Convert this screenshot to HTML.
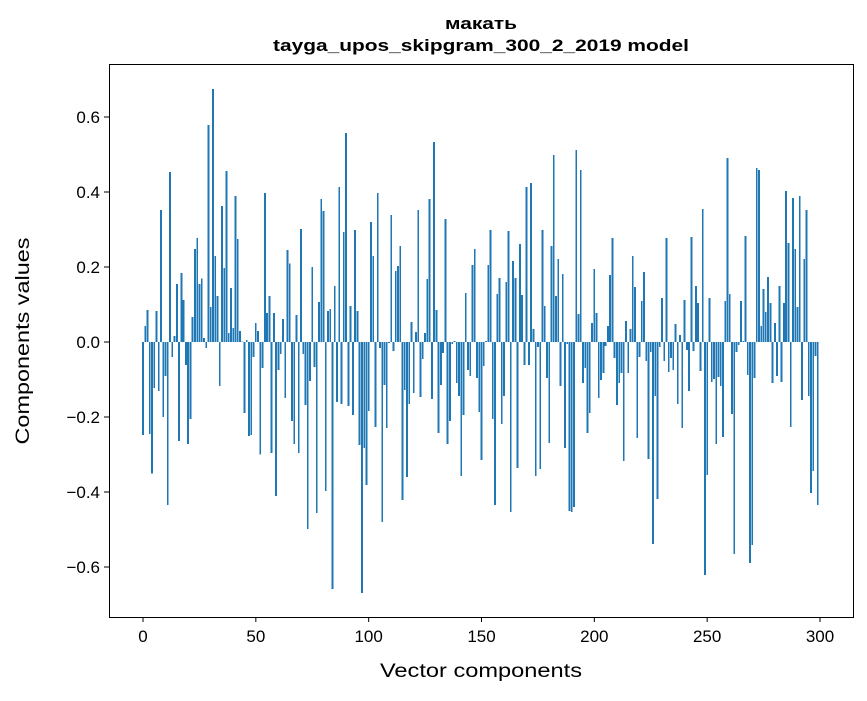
<!DOCTYPE html>
<html><head><meta charset="utf-8"><style>
body{margin:0;background:#fff;}
svg text{font-family:"Liberation Sans","DejaVu Sans",sans-serif;}
</style></head><body>
<svg id="chart" width="867" height="696" xmlns="http://www.w3.org/2000/svg">
<rect width="867" height="696" fill="#fff"/>
<text x="481" y="29" text-anchor="middle" font-size="17" font-weight="bold" textLength="72" lengthAdjust="spacingAndGlyphs">макать</text>
<text x="481" y="51" text-anchor="middle" font-size="17" font-weight="bold" textLength="416" lengthAdjust="spacingAndGlyphs">tayga_upos_skipgram_300_2_2019 model</text>
<g id="bars" shape-rendering="crispEdges"></g>
<g id="axes"></g>
<rect x="109.5" y="64.5" width="744" height="553" fill="none" stroke="#000" stroke-width="1"/>
<text x="481" y="677" text-anchor="middle" font-size="19" textLength="202" lengthAdjust="spacingAndGlyphs">Vector components</text>
<text transform="translate(29,341) rotate(-90)" text-anchor="middle" font-size="19" textLength="207" lengthAdjust="spacingAndGlyphs">Components values</text>
</svg>
<script>
const values = [-0.248,0.043,0.085,-0.245,-0.35,-0.123,0.083,-0.13,0.352,-0.2,-0.09,-0.435,0.453,-0.04,0.016,0.155,-0.264,0.184,0.112,-0.061,-0.272,-0.205,0.067,0.248,0.277,0.155,0.17,0.011,-0.016,0.579,0.093,0.675,0.229,0.123,-0.117,0.363,0.197,0.456,0.024,0.144,0.037,0.389,0.275,0.029,0.002,-0.189,0.005,-0.25,-0.248,-0.04,
0.051,0.029,-0.3,-0.069,0.397,0.077,0.123,-0.296,0.077,-0.41,-0.075,-0.032,0.061,-0.149,0.245,0.21,-0.21,-0.272,0.072,-0.296,0.301,-0.032,-0.168,-0.499,-0.104,0.2,-0.067,-0.456,0.107,0.381,0.349,-0.397,0.083,0.088,-0.659,0.149,-0.16,0.413,-0.165,0.293,0.557,-0.17,0.096,-0.195,0.299,0.083,-0.275,-0.669,-0.283,-0.381,
-0.184,0.32,0.229,-0.227,0.397,-0.016,-0.48,-0.115,-0.229,-0.003,0.339,-0.024,0.189,0.203,0.256,-0.421,-0.128,-0.36,-0.165,0.053,-0.136,0.027,0.352,-0.147,-0.045,0.024,0.168,0.381,-0.152,0.533,0.085,-0.243,-0.115,-0.029,0.328,-0.272,-0.21,-0.005,0.003,-0.109,-0.144,-0.357,-0.195,0.131,-0.075,-0.091,0.205,0.248,-0.096,-0.187,
-0.315,-0.064,0.003,0.205,0.299,-0.205,-0.435,0.128,0.171,-0.219,-0.144,0.16,0.296,-0.453,0.216,0.171,-0.336,0.261,0.125,-0.061,0.413,-0.061,0.424,0.035,-0.357,-0.013,-0.339,0.299,0.096,-0.096,-0.269,0.256,0.499,0.123,0.221,-0.117,0.181,-0.283,-0.005,-0.451,-0.453,-0.44,0.512,0.075,0.459,-0.109,-0.069,-0.243,-0.189,0.051,
0.195,0.077,-0.149,-0.101,-0.083,-0.011,0.043,0.179,0.277,-0.043,-0.168,-0.109,-0.083,-0.317,0.056,-0.083,0.035,0.229,0.147,-0.256,-0.04,0.109,0.187,-0.051,-0.312,-0.027,-0.539,-0.144,-0.419,-0.013,0.117,-0.051,0.277,-0.08,-0.043,-0.075,0.048,-0.165,0.019,-0.229,0.112,-0.021,-0.131,0.28,-0.024,0.149,0.104,-0.077,0.355,-0.621,
-0.355,0.117,-0.107,-0.099,-0.272,-0.093,-0.117,-0.253,0.109,0.491,0.128,-0.192,-0.565,-0.027,-0.008,0.109,0.003,0.283,-0.088,-0.589,-0.541,-0.096,0.464,0.459,0.043,0.141,0.08,0.173,0.104,-0.109,0.051,-0.091,0.149,-0.107,0.104,0.403,0.264,-0.227,0.384,0.248,0.093,0.389,-0.155,0.221,0.352,-0.144,-0.403,-0.344,-0.037,-0.435];
const yTicks = [-0.6,-0.4,-0.2,0.0,0.2,0.4,0.6];
const xTicks = [0,50,100,150,200,250,300];

const NS="http://www.w3.org/2000/svg";
const xScale = v => 143 + v*(820-143)/300;
const yScale = v => 342 - v*375;
const bars=document.getElementById('bars');
values.forEach((v,i)=>{
  const r=document.createElementNS(NS,'rect');
  const w=0.8*(820-143)/300;
  r.setAttribute('x',xScale(i)-w/2);
  r.setAttribute('width',w);
  const y0=yScale(0), y1=yScale(v);
  r.setAttribute('y',Math.min(y0,y1));
  r.setAttribute('height',Math.abs(y1-y0));
  r.setAttribute('fill','#1f77b4');
  
  
  bars.appendChild(r);
});
const axes=document.getElementById('axes');
yTicks.forEach(t=>{
  const y=yScale(t);
  const l=document.createElementNS(NS,'line');
  l.setAttribute('x1',104);l.setAttribute('x2',109);l.setAttribute('y1',y);l.setAttribute('y2',y);
  l.setAttribute('stroke','#000');
  
  
  axes.appendChild(l);
  const tx=document.createElementNS(NS,'text');
  tx.setAttribute('x',100);tx.setAttribute('y',y+6);tx.setAttribute('text-anchor','end');tx.setAttribute('font-size','17');
  tx.textContent=(t<0?'\u2212':'')+Math.abs(t).toFixed(1);
  
  
  axes.appendChild(tx);
});
xTicks.forEach(t=>{
  const x=xScale(t);
  const l=document.createElementNS(NS,'line');
  l.setAttribute('x1',x);l.setAttribute('x2',x);l.setAttribute('y1',617);l.setAttribute('y2',622);
  l.setAttribute('stroke','#000');
  
  
  axes.appendChild(l);
  const tx=document.createElementNS(NS,'text');
  tx.setAttribute('x',x);tx.setAttribute('y',642);tx.setAttribute('text-anchor','middle');tx.setAttribute('font-size','17');
  tx.textContent=t;
  
  
  axes.appendChild(tx);
});
</script>
</body></html>
